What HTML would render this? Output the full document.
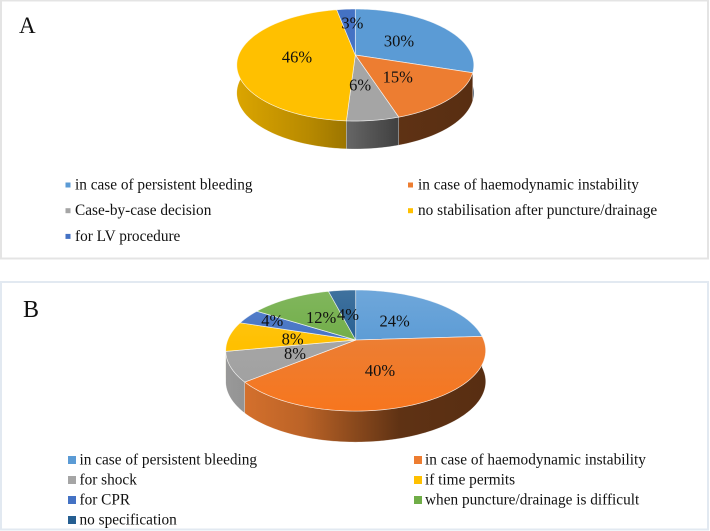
<!DOCTYPE html>
<html lang="en">
<head>
<meta charset="utf-8">
<title>Pie charts A and B</title>
<style>
html,body{margin:0;padding:0;background:#fff;}
body{width:710px;height:531px;overflow:hidden;}
svg{display:block;}
text{font-family:"Liberation Serif",serif;fill:#111;}
</style>
</head>
<body>
<svg id="figure" width="710" height="531" viewBox="0 0 710 531" xmlns="http://www.w3.org/2000/svg">
  <defs id="gradients"></defs>
  <rect x="1" y="0.5" width="707" height="258" fill="#fff" stroke="#e4e4e4" stroke-width="2"/>
  <rect x="1" y="282" width="707" height="247.5" fill="#fff" stroke="#e2e9f1" stroke-width="2"/>
  <text x="19" y="33" font-size="23">A</text>
  <text x="23" y="317" font-size="24">B</text>
  <g id="chart-a"></g>
  <g id="chart-b"></g>
</svg>
<script>
const categoriesA = ["in case of persistent bleeding", "in case of haemodynamic instability", "Case-by-case decision", "no stabilisation after puncture/drainage", "for LV procedure"];
const valuesA = [30, 15, 6, 46, 3];
const categoriesB = ["in case of persistent bleeding", "in case of haemodynamic instability", "for shock", "if time permits", "for CPR", "when puncture/drainage is difficult", "no specification"];
const valuesB = [24, 40, 8, 8, 4, 12, 4];

const colorsA = ["#5b9bd5", "#ed7d31", "#a5a5a5", "#ffc000", "#4472c4"];
const colorsB = ["#5b9bd5", "#ed7d31", "#a5a5a5", "#ffc000", "#4472c4", "#70ad47", "#255e91"];

const SVG_NS = "http://www.w3.org/2000/svg";
const defs = document.getElementById("gradients");

function hexToRgb(h) {
  return [parseInt(h.slice(1, 3), 16), parseInt(h.slice(3, 5), 16), parseInt(h.slice(5, 7), 16)];
}
function scaleColor(h, m) {
  return "rgb(" + hexToRgb(h).map(function (c) { return Math.round(c * m); }).join(",") + ")";
}
function tint(h, t) {
  return "rgb(" + hexToRgb(h).map(function (c) { return Math.round(c + (255 - c) * t); }).join(",") + ")";
}
function saturate(h, s, m) {
  const rgb = hexToRgb(h);
  const mean = (rgb[0] + rgb[1] + rgb[2]) / 3;
  return "rgb(" + rgb.map(function (c) {
    return Math.max(0, Math.min(255, Math.round((mean + (c - mean) * s) * m)));
  }).join(",") + ")";
}
function addGradient(id, x1, y1, x2, y2, stops) {
  const g = document.createElementNS(SVG_NS, "linearGradient");
  g.setAttribute("id", id);
  g.setAttribute("gradientUnits", "userSpaceOnUse");
  g.setAttribute("x1", x1);
  g.setAttribute("y1", y1);
  g.setAttribute("x2", x2);
  g.setAttribute("y2", y2);
  stops.forEach(function (s) {
    const st = document.createElementNS(SVG_NS, "stop");
    st.setAttribute("offset", s[0]);
    st.setAttribute("stop-color", s[1]);
    g.appendChild(st);
  });
  defs.appendChild(g);
}

function drawPie(cfg) {
  const root = document.getElementById(cfg.rootId);
  const total = cfg.values.reduce(function (a, b) { return a + b; }, 0);

  function project(theta, f) {
    const X = f * Math.sin(theta);
    const Y = -f * Math.cos(theta);
    const w = 1 - cfg.k * Y;
    return [cfg.cx + cfg.b * X / w, cfg.cy + cfg.a * Y / w];
  }
  function arcPoints(t0, t1) {
    const n = Math.max(2, Math.ceil((t1 - t0) / 0.02));
    const pts = [];
    for (let i = 0; i <= n; i++) {
      pts.push(project(t0 + (t1 - t0) * i / n, 1));
    }
    return pts;
  }
  function toPath(pts) {
    return "M" + pts.map(function (p) { return p[0].toFixed(2) + " " + p[1].toFixed(2); }).join("L") + "Z";
  }

  const slices = [];
  let acc = 0;
  cfg.values.forEach(function (v) {
    const t0 = acc / total * 2 * Math.PI;
    acc += v;
    slices.push([t0, acc / total * 2 * Math.PI]);
  });

  const left = cfg.cx - cfg.b * 1.02;
  const right = cfg.cx + cfg.b * 1.02;

  // side walls, back to front so nearer walls cover farther ones
  const sideOrder = slices.map(function (s, i) {
    const pts = arcPoints(s[0], s[1]);
    return { i: i, pts: pts, maxY: Math.max.apply(null, pts.map(function (p) { return p[1]; })) };
  }).sort(function (p, q) { return p.maxY - q.maxY; });

  sideOrder.forEach(function (item) {
    const i = item.i;
    const lower = item.pts.slice().reverse().map(function (p) { return [p[0], p[1] + cfg.depth]; });
    const gid = cfg.rootId + "-side-" + i;
    addGradient(gid, left, 0, right, 0, [
      [0, scaleColor(cfg.colors[i], cfg.sideLeft)],
      [0.3, scaleColor(cfg.colors[i], cfg.sideLeft - 0.14)],
      [0.48, scaleColor(cfg.colors[i], 0.6)],
      [0.67, scaleColor(cfg.colors[i], 0.4)],
      [1, scaleColor(cfg.colors[i], 0.37)]
    ]);
    const side = document.createElementNS(SVG_NS, "path");
    side.setAttribute("d", toPath(item.pts.concat(lower)));
    side.setAttribute("fill", "url(#" + gid + ")");
    side.setAttribute("stroke", "rgba(255,255,255,0.55)");
    side.setAttribute("stroke-width", "0.5");
    
    
    root.appendChild(side);
  });

  // top faces
  slices.forEach(function (s, i) {
    const pts = [project(0, 0)].concat(arcPoints(s[0], s[1]));
    let fill = cfg.colors[i];
    if (cfg.topShade > 0) {
      const gid = cfg.rootId + "-top-" + i;
      addGradient(gid, 0, cfg.cy - cfg.a, 0, cfg.cy + cfg.a * 1.2, [
        [0, tint(cfg.colors[i], cfg.topShade)],
        [0.5, cfg.colors[i]],
        [1, saturate(cfg.colors[i], 1.2, 0.96)]
      ]);
      fill = "url(#" + gid + ")";
    }
    const top = document.createElementNS(SVG_NS, "path");
    top.setAttribute("d", toPath(pts));
    top.setAttribute("fill", fill);
    top.setAttribute("stroke", "rgba(255,255,255,0.75)");
    top.setAttribute("stroke-width", "0.7");
    top.setAttribute("stroke-linejoin", "round");
    
    
    root.appendChild(top);
  });

  // value labels
  slices.forEach(function (s, i) {
    const p = project((s[0] + s[1]) / 2, 0.6);
    const label = document.createElementNS(SVG_NS, "text");
    label.setAttribute("x", (p[0] + cfg.nudges[i][0]).toFixed(1));
    label.setAttribute("y", (p[1] + cfg.nudges[i][1] + 5.5).toFixed(1));
    label.setAttribute("text-anchor", "middle");
    label.setAttribute("font-size", "16.5");
    
    
    label.textContent = Math.round(cfg.values[i]) + "%";
    root.appendChild(label);
  });

  // legend
  cfg.categories.forEach(function (name, i) {
    const col = i % 2;
    const row = Math.floor(i / 2);
    const cy = cfg.legendY + row * cfg.legendStep;
    const sw = document.createElementNS(SVG_NS, "rect");
    sw.setAttribute("x", cfg.swatchX[col]);
    sw.setAttribute("y", cy - cfg.swatchSize / 2);
    sw.setAttribute("width", cfg.swatchSize);
    sw.setAttribute("height", cfg.swatchSize);
    sw.setAttribute("fill", cfg.colors[i]);
    
    
    root.appendChild(sw);
    const t = document.createElementNS(SVG_NS, "text");
    t.setAttribute("x", cfg.textX[col]);
    t.setAttribute("y", cy + 4.5);
    t.setAttribute("font-size", cfg.legendFont);
    
    
    t.textContent = name;
    root.appendChild(t);
  });
}

drawPie({
  rootId: "chart-a", values: valuesA, categories: categoriesA, colors: colorsA,
  cx: 355.3, cy: 55, a: 54.2, b: 116.6, k: 0.179, depth: 28, topShade: 0, sideLeft: 0.86,
  nudges: [[-9.5, 4], [-11, -3], [-5, -6], [12, 0], [3, -3]],
  legendY: 185, legendStep: 25.7, swatchX: [65.5, 408], swatchSize: 5,
  textX: [75, 418], legendFont: 15.3
});
drawPie({
  rootId: "chart-b", values: valuesB, categories: categoriesB, colors: colorsB,
  cx: 355.7, cy: 340, a: 58.7, b: 128, k: 0.174, depth: 31, topShade: 0.14, sideLeft: 0.93,
  nudges: [[-10, 5], [-7, -6], [12, -2], [13, 1], [-17, -5], [7, 4], [1, 6]],
  legendY: 460, legendStep: 20, swatchX: [68, 414], swatchSize: 8,
  textX: [79.5, 425], legendFont: 15.3
});
</script>
</body>
</html>
